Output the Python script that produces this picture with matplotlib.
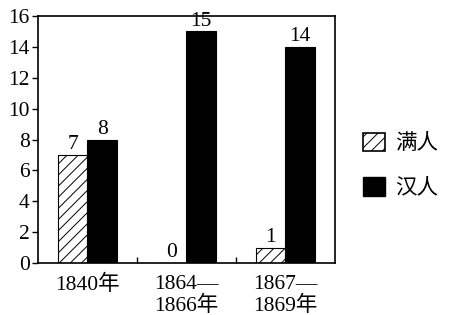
import matplotlib.pyplot as plt
from matplotlib.patches import Patch

# data
categories = ["1840年", "1864—\n1866年", "1867—\n1869年"]
manchu = [7, 0, 1]
han = [8, 15, 14]
labels = ["满人", "汉人"]

plt.rcParams['font.family'] = ['Liberation Serif', 'Noto Sans CJK SC']
plt.rcParams['hatch.linewidth'] = 0.7

fig = plt.figure(figsize=(4.58, 3.15), dpi=100)
ax = fig.add_axes([0.083, 0.165, 0.648, 0.784])

x = [1, 2, 3]
w = 0.3
b1 = ax.bar([i - w / 2 for i in x], manchu, w, facecolor='white', edgecolor='black',
            hatch='///', linewidth=0.8)
b2 = ax.bar([i + w / 2 for i in x], han, w, color='black', edgecolor='black', linewidth=0.8)

fs = 15.5
for i, v in zip(x, manchu):
    ax.text(i - w / 2, v + 0.05, str(v), ha='center', va='bottom', fontsize=fs)
for i, v in zip(x, han):
    ax.text(i + w / 2, v + 0.05, str(v), ha='center', va='bottom', fontsize=fs)

ax.set_xlim(0.5, 3.5)
ax.set_ylim(0, 16)
ax.set_yticks(range(0, 17, 2))
ax.tick_params(axis='y', direction='out', length=4, labelsize=fs, width=1, pad=2)
ax.set_xticks([1.5, 2.5])
ax.set_xticklabels([])
ax.tick_params(axis='x', direction='in', length=4, width=1)
for s in ax.spines.values():
    s.set_linewidth(1.2)

for i, c in zip(x, categories):
    ax.text(i, -0.75, c, ha='center', va='top', fontsize=fs, linespacing=1.15,
            transform=ax.transData)

handles = [Patch(facecolor='white', edgecolor='black', hatch='///', linewidth=1.2),
           Patch(facecolor='black', edgecolor='black')]
fig.legend(handles, labels, loc='upper left', bbox_to_anchor=(0.75, 0.64), frameon=False,
           fontsize=fs, handlelength=1.05, handleheight=0.95, labelspacing=1.05,
           handletextpad=0.45)

fig.savefig("out.png", dpi=100)
